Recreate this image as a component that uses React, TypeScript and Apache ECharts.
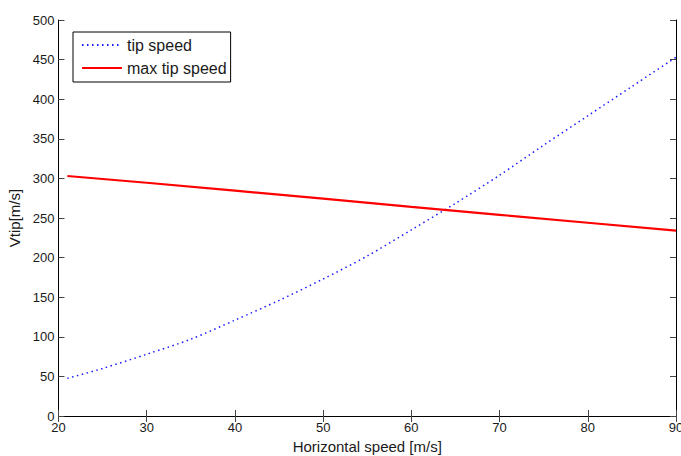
import React, { useEffect, useRef } from "react";
import * as echarts from "echarts";

const tipX = [21, 25, 30, 35, 40, 45, 50, 55, 60, 65, 70, 75, 80, 85, 90];
const tipV = [47.5, 60, 78, 97, 121, 146, 173, 202, 235, 268.5, 304, 342, 379, 416, 453];
const maxX = [21, 30, 40, 50, 60, 70, 80, 90];
const maxV = [303, 294.5, 284.5, 274.5, 264, 254, 244, 234];
const xTicks = { min: 20, max: 90, interval: 10 };
const yTicks = { min: 0, max: 500, interval: 50 };

const FONT = "Liberation Sans, Arial, Helvetica, sans-serif";

export default function App() {
  const ref = useRef<HTMLDivElement>(null);
  useEffect(() => {
    document.body.style.margin = "0";
    const chart = echarts.init(ref.current!, undefined, { renderer: "svg" });
    const axisCommon = {
      axisLine: { show: true, lineStyle: { color: "#000", width: 1 } },
      axisTick: { show: true, inside: true, length: 6, lineStyle: { color: "#444", width: 1 } },
      splitLine: { show: false },
    };
    chart.setOption({
      animation: false,
      backgroundColor: "#fff",
      textStyle: { fontFamily: FONT },
      grid: {
        left: 58.5,
        right: 5,
        top: 20,
        bottom: 40,
        containLabel: false,
        outerBoundsMode: "none",
      },
      legend: {
        orient: "vertical",
        left: 73,
        top: 32,
        itemWidth: 40,
        itemHeight: 14,
        itemGap: 7,
        padding: [5, 4, 6, 8],
        borderColor: "#000",
        borderWidth: 1,
        borderRadius: 0,
        backgroundColor: "#fff",
        itemStyle: { opacity: 0 },
        textStyle: { fontSize: 16, color: "#1a1a1a", fontFamily: FONT },
        data: ["tip speed", "max tip speed"],
      },
      xAxis: [
        {
          type: "value",
          position: "bottom",
          ...xTicks,
          ...axisCommon,
          name: "Horizontal speed [m/s]",
          nameLocation: "middle",
          nameGap: 18,
          nameTextStyle: { fontSize: 15, color: "#1a1a1a", fontFamily: FONT },
          axisLabel: { fontSize: 13, color: "#1a1a1a", margin: 5, fontFamily: FONT },
        },
        {
          type: "value",
          position: "top",
          ...xTicks,
          ...axisCommon,
          axisLabel: { show: false },
        },
      ],
      yAxis: [
        {
          type: "value",
          position: "left",
          ...yTicks,
          ...axisCommon,
          name: "Vtip[m/s]",
          nameLocation: "middle",
          nameGap: 25,
          nameTextStyle: { fontSize: 15, color: "#1a1a1a", fontFamily: FONT },
          axisLabel: { fontSize: 13, color: "#1a1a1a", margin: 4, fontFamily: FONT },
        },
        {
          type: "value",
          position: "right",
          ...yTicks,
          ...axisCommon,
          axisLabel: { show: false },
        },
      ],
      series: [
        {
          name: "tip speed",
          type: "line",
          xAxisIndex: 0,
          yAxisIndex: 0,
          symbol: "none",
          smooth: 0.3,
          data: tipX.map((x, i) => [x, tipV[i]]),
          lineStyle: { color: "#1a1aff", width: 1.5, type: [1.5, 3.5] },
          itemStyle: { color: "#1a1aff" },
        },
        {
          name: "max tip speed",
          type: "line",
          xAxisIndex: 0,
          yAxisIndex: 0,
          symbol: "none",
          data: maxX.map((x, i) => [x, maxV[i]]),
          lineStyle: { color: "#ff0000", width: 2.2, type: "solid" },
          itemStyle: { color: "#ff0000" },
        },
      ],
    });
    return () => chart.dispose();
  }, []);
  return <div ref={ref} style={{ width: 681, height: 456 }} />;
}
